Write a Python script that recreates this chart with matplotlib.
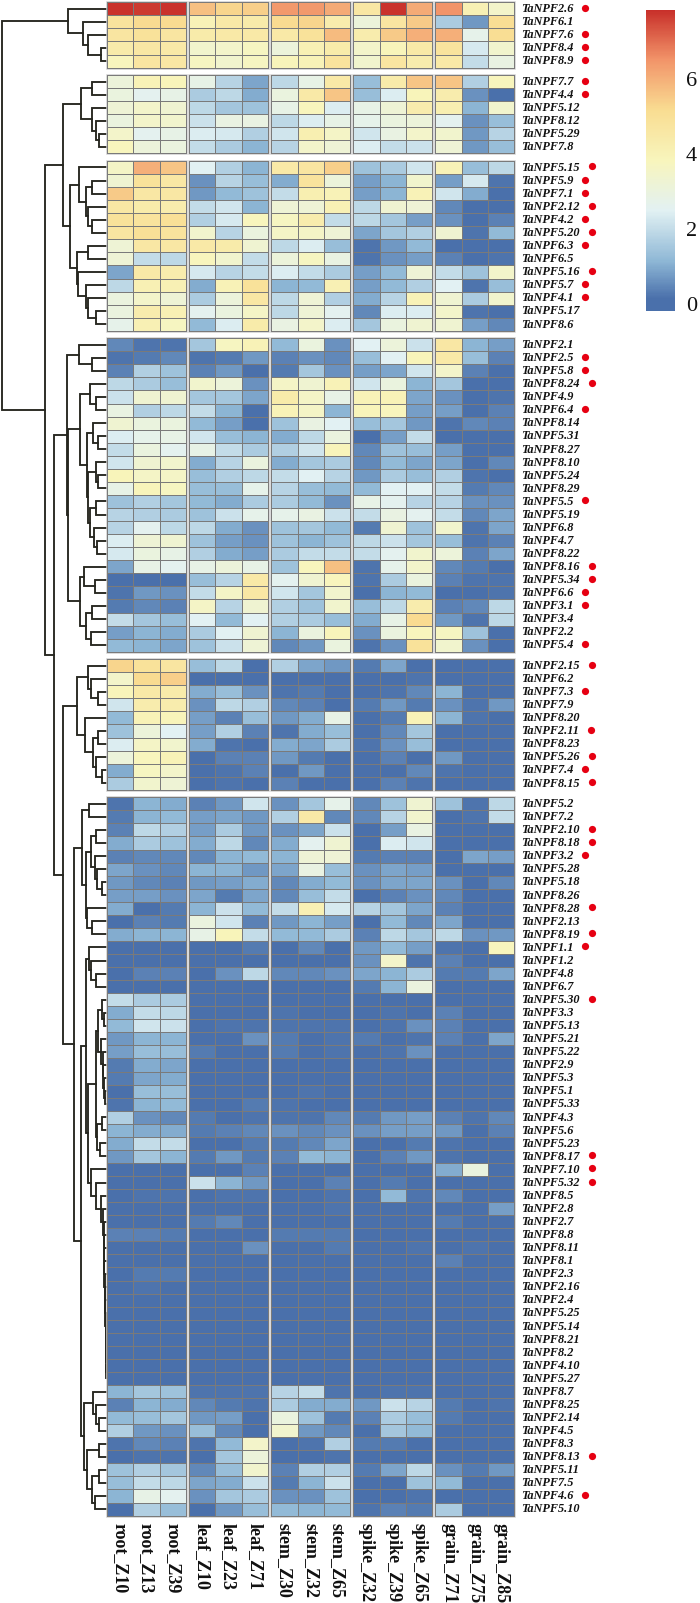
import numpy as np
import matplotlib
matplotlib.use('Agg')
import matplotlib.pyplot as plt
from matplotlib.colors import LinearSegmentedColormap, Normalize
from matplotlib.patches import Rectangle
from matplotlib.colorbar import ColorbarBase

samples = ['root_Z10', 'root_Z13', 'root_Z39', 'leaf_Z10', 'leaf_Z23', 'leaf_Z71',
           'stem_Z30', 'stem_Z32', 'stem_Z65', 'spike_Z32', 'spike_Z39', 'spike_Z65',
           'grain_Z71', 'grain_Z75', 'grain_Z85']

genes_1 = ['2.6', '6.1', '7.6', '8.4', '8.9']
values_1 = [
    [7.8, 7.7, 7.8, 5.7, 5.3, 5.4, 6.4, 6.4, 6.1, 4.6, 7.8, 6.1, 6.5, 4.1, 3.5],
    [4.8, 5.2, 5.2, 4.0, 4.5, 4.4, 5.2, 5.3, 4.3, 3.1, 4.7, 5.5, 1.6, 0.7, 5.1],
    [4.7, 4.9, 4.7, 4.4, 4.5, 4.5, 4.5, 4.9, 5.8, 4.3, 5.5, 6.0, 6.0, 2.7, 5.1],
    [4.4, 4.6, 4.5, 3.4, 3.5, 3.7, 3.1, 4.1, 4.4, 3.5, 3.9, 4.5, 4.8, 2.3, 3.4],
    [3.8, 4.7, 4.6, 3.7, 3.4, 3.7, 3.9, 4.0, 4.8, 3.4, 4.7, 4.3, 4.5, 2.0, 2.9],
]

genes_2 = ['7.7', '4.4', '5.12', '8.12', '5.29', '7.8']
values_2 = [
    [3.1, 4.0, 3.9, 2.8, 1.8, 0.9, 1.9, 2.8, 4.5, 1.3, 4.4, 5.6, 5.6, 1.7, 3.8],
    [3.0, 2.6, 2.8, 1.6, 1.9, 1.0, 3.0, 4.5, 5.6, 1.3, 2.4, 3.9, 4.3, 0.6, 0.1],
    [3.2, 3.5, 3.3, 1.9, 1.5, 1.4, 2.8, 3.8, 2.4, 2.8, 3.2, 4.3, 4.2, 1.1, 3.4],
    [3.0, 3.5, 3.4, 2.1, 2.9, 2.9, 1.9, 2.4, 2.8, 2.7, 3.0, 3.1, 2.6, 0.6, 1.3],
    [3.5, 2.6, 2.8, 2.4, 2.3, 1.7, 2.2, 4.2, 3.6, 2.2, 2.9, 3.5, 3.4, 0.7, 1.8],
    [3.8, 3.1, 3.0, 2.0, 1.6, 1.1, 1.8, 3.5, 3.2, 2.4, 2.0, 2.1, 3.2, 0.7, 1.3],
]

genes_3 = ['5.15', '5.9', '7.1', '2.12', '4.2', '5.20', '6.3', '6.5', '5.16', '5.7', '4.1', '5.17', '8.6']
values_3 = [
    [3.6, 6.0, 5.6, 2.5, 1.7, 1.1, 4.5, 4.7, 5.4, 1.4, 1.6, 2.2, 4.0, 1.3, 1.9],
    [3.3, 4.9, 4.6, 0.6, 1.8, 1.3, 1.0, 4.8, 3.1, 0.8, 1.1, 3.4, 0.8, 2.3, 0.2],
    [5.5, 4.6, 4.6, 0.7, 1.2, 1.4, 2.0, 4.2, 4.0, 0.8, 1.1, 4.0, 2.2, 1.0, 0.1],
    [4.6, 4.4, 4.3, 2.0, 2.2, 1.1, 3.2, 3.2, 4.1, 1.9, 3.3, 3.2, 0.5, 0.1, 0.1],
    [4.9, 4.8, 5.0, 1.7, 2.3, 3.8, 3.7, 4.3, 2.0, 1.9, 1.5, 0.8, 0.6, 0.1, 0.4],
    [4.7, 5.0, 4.8, 3.4, 1.8, 3.0, 3.6, 3.6, 3.2, 0.9, 1.5, 1.7, 3.3, 0.2, 1.2],
    [3.2, 4.6, 4.6, 4.5, 4.4, 3.3, 1.9, 2.4, 1.3, 0.2, 0.7, 1.2, 0.1, 0.1, 0.1],
    [3.2, 2.0, 1.9, 3.8, 3.4, 2.0, 3.1, 3.7, 2.9, 0.2, 0.6, 0.8, 0.4, 0.1, 0.2],
    [0.9, 4.5, 4.3, 2.3, 1.8, 2.0, 2.4, 2.0, 1.6, 0.8, 1.2, 3.2, 2.0, 1.4, 3.5],
    [1.9, 4.1, 4.1, 1.0, 4.0, 4.9, 1.1, 1.2, 4.1, 0.8, 1.2, 1.7, 2.5, 0.2, 1.3],
    [3.0, 3.5, 3.2, 1.6, 3.1, 4.6, 1.9, 3.2, 1.7, 1.0, 1.8, 4.0, 3.3, 1.6, 3.4],
    [3.0, 4.3, 4.1, 2.6, 3.0, 3.6, 1.9, 3.2, 2.6, 0.5, 2.4, 2.4, 3.5, 0.2, 0.1],
    [2.7, 4.1, 3.7, 1.2, 2.4, 4.4, 2.9, 3.5, 2.4, 1.5, 3.0, 3.3, 3.3, 0.8, 0.5],
]

genes_4 = ['2.1', '2.5', '5.8', '8.24', '4.9', '6.4', '8.14', '5.31', '8.27', '8.10', '5.24', '8.29',
           '5.5', '5.19', '6.8', '4.7', '8.22', '8.16', '5.34', '6.6', '3.1', '3.4', '2.2', '5.4']
values_4 = [
    [0.5, 0.2, 0.2, 1.5, 3.7, 4.0, 1.2, 3.0, 0.6, 2.5, 3.1, 2.1, 4.6, 1.1, 0.8],
    [0.2, 0.3, 0.5, 0.2, 0.3, 0.7, 0.4, 0.6, 0.5, 1.3, 2.5, 3.9, 4.5, 1.3, 0.4],
    [0.4, 1.7, 1.4, 0.4, 0.7, 0.1, 0.3, 1.5, 0.6, 0.8, 0.9, 2.2, 3.5, 0.4, 0.1],
    [1.9, 1.6, 1.3, 3.4, 3.1, 0.6, 3.6, 3.3, 4.0, 2.2, 3.0, 1.1, 1.5, 0.1, 0.1],
    [2.1, 3.3, 3.3, 1.5, 1.5, 0.9, 4.4, 3.6, 2.8, 4.0, 4.0, 0.9, 0.6, 0.1, 0.2],
    [2.9, 1.7, 1.9, 2.0, 1.1, 0.1, 4.0, 3.6, 1.1, 3.9, 3.8, 0.8, 0.8, 0.1, 0.4],
    [3.3, 3.0, 3.0, 1.2, 0.8, 0.1, 1.4, 2.9, 2.5, 1.3, 1.5, 0.7, 0.2, 0.5, 0.4],
    [2.4, 2.7, 2.8, 2.2, 1.3, 1.1, 1.0, 1.9, 3.0, 0.1, 0.8, 2.0, 0.1, 0.1, 0.1],
    [2.0, 3.0, 2.6, 2.8, 2.0, 1.6, 1.7, 2.2, 3.9, 0.5, 1.4, 1.3, 0.8, 0.1, 0.1],
    [2.2, 3.3, 3.4, 1.0, 1.8, 3.0, 1.0, 1.5, 1.6, 0.5, 1.2, 0.9, 0.9, 0.1, 0.5],
    [3.9, 3.6, 3.6, 1.3, 1.7, 1.9, 2.0, 2.5, 1.8, 0.7, 1.6, 1.3, 1.7, 0.2, 0.1],
    [2.8, 3.9, 3.7, 1.3, 1.3, 2.7, 1.8, 1.3, 1.2, 1.2, 2.5, 2.5, 2.0, 0.3, 0.5],
    [1.4, 1.7, 1.5, 1.2, 1.0, 1.6, 1.6, 1.2, 0.6, 2.8, 2.6, 1.8, 1.8, 0.6, 0.6],
    [1.8, 1.7, 1.6, 1.4, 2.1, 2.7, 2.7, 2.9, 2.1, 2.0, 2.9, 2.6, 2.0, 0.5, 0.9],
    [1.8, 2.6, 1.9, 1.9, 1.0, 0.6, 1.4, 1.5, 1.2, 0.3, 3.3, 1.4, 3.4, 0.2, 0.9],
    [2.4, 3.2, 3.3, 1.4, 0.8, 0.6, 1.4, 1.1, 1.4, 1.9, 2.1, 1.5, 1.3, 0.2, 0.4],
    [2.3, 3.0, 2.8, 1.7, 1.0, 0.8, 1.6, 2.0, 2.0, 2.0, 2.6, 3.4, 3.1, 0.4, 0.9],
    [0.9, 2.8, 2.6, 2.8, 3.1, 2.8, 1.4, 3.8, 5.7, 0.2, 2.7, 3.5, 0.5, 0.3, 0.1],
    [0.1, 0.1, 0.1, 1.3, 1.8, 4.5, 2.6, 3.3, 3.8, 0.2, 1.6, 3.0, 0.4, 0.2, 0.2],
    [0.2, 0.7, 0.6, 2.0, 3.6, 4.6, 2.2, 1.5, 3.4, 0.1, 1.1, 1.2, 0.1, 0.1, 0.2],
    [0.3, 0.5, 0.4, 3.6, 1.8, 3.3, 1.7, 1.4, 3.4, 1.3, 1.9, 4.3, 0.4, 0.5, 1.9],
    [2.0, 1.5, 1.3, 2.5, 1.2, 2.5, 1.7, 1.6, 1.3, 1.0, 2.8, 5.2, 0.7, 0.2, 1.9],
    [0.8, 1.1, 1.0, 1.6, 2.5, 3.3, 1.1, 3.0, 3.9, 0.6, 3.0, 3.8, 3.7, 1.4, 0.1],
    [1.2, 1.1, 0.9, 1.4, 2.1, 3.2, 0.5, 0.7, 3.0, 0.2, 0.6, 4.9, 3.4, 0.6, 0.1],
]

genes_5 = ['2.15', '6.2', '7.3', '7.9', '8.20', '2.11', '8.23', '5.26', '7.4', '8.15']
values_5 = [
    [5.3, 4.9, 4.7, 1.3, 1.9, 0.1, 1.7, 0.9, 0.7, 0.3, 0.9, 0.1, 0.1, 0.1, 0.1],
    [3.5, 5.2, 5.4, 0.1, 0.1, 0.1, 0.1, 0.1, 0.1, 0.1, 0.1, 0.2, 0.1, 0.1, 0.1],
    [3.9, 4.5, 4.4, 1.0, 1.3, 0.6, 0.2, 0.3, 0.1, 0.1, 0.2, 0.5, 1.1, 0.1, 0.1],
    [2.2, 4.3, 4.3, 0.6, 1.9, 1.7, 0.5, 0.4, 0.1, 0.3, 0.7, 0.3, 0.6, 0.2, 0.7],
    [1.2, 4.0, 3.9, 0.8, 0.4, 1.3, 0.7, 1.0, 2.8, 0.1, 0.3, 4.0, 1.1, 0.2, 0.1],
    [1.4, 3.1, 2.5, 0.8, 1.7, 0.4, 0.2, 1.0, 1.3, 0.1, 0.5, 1.5, 0.1, 0.1, 0.1],
    [2.4, 3.6, 3.4, 1.0, 0.2, 0.1, 1.0, 0.9, 1.6, 0.2, 0.6, 1.3, 0.1, 0.1, 0.1],
    [3.1, 3.8, 4.0, 0.1, 0.4, 0.4, 0.7, 0.3, 0.1, 0.1, 0.4, 0.1, 0.7, 0.1, 0.1],
    [1.0, 3.7, 3.5, 0.1, 0.2, 0.4, 0.1, 0.7, 0.1, 0.1, 0.0, 0.5, 0.2, 0.1, 0.1],
    [1.6, 3.4, 3.2, 0.1, 0.2, 0.1, 0.4, 0.1, 0.1, 0.1, 0.4, 0.2, 0.1, 0.1, 0.1],
]

genes_6 = ['5.2', '7.2', '2.10', '8.18', '3.2', '5.28', '5.18', '8.26', '8.28', '2.13', '8.19',
           '1.1', '1.2', '4.8', '6.7', '5.30', '3.3', '5.13', '5.21', '5.22', '2.9', '5.3', '5.1', '5.33',
           '4.3', '5.6', '5.23', '8.17', '7.10', '5.32', '8.5', '2.8', '2.7', '8.8', '8.11', '8.1', '2.3',
           '2.16', '2.4', '5.25', '5.14', '8.21', '8.2', '4.10', '5.27', '8.7', '8.25', '2.14', '4.5',
           '8.3', '8.13', '5.11', '7.5', '4.6', '5.10']
values_6 = [
    [0.2, 1.1, 1.0, 0.4, 0.7, 2.2, 0.6, 1.5, 2.7, 0.5, 1.4, 3.3, 1.4, 0.2, 1.9],
    [0.3, 1.1, 1.2, 0.8, 0.9, 0.7, 1.7, 4.5, 0.5, 0.5, 1.8, 3.4, 0.1, 0.2, 2.0],
    [0.4, 1.9, 1.7, 0.8, 1.6, 0.7, 0.6, 0.9, 2.1, 0.1, 0.8, 2.9, 0.1, 0.1, 0.1],
    [1.0, 1.6, 1.4, 1.0, 1.9, 0.5, 1.0, 2.6, 3.3, 0.1, 2.4, 2.2, 0.1, 0.1, 0.1],
    [0.4, 0.5, 0.5, 0.5, 1.1, 1.2, 1.1, 3.2, 3.2, 0.3, 0.4, 0.4, 0.1, 0.9, 0.8],
    [0.9, 0.6, 0.5, 1.1, 1.1, 0.7, 0.9, 2.9, 1.3, 0.6, 0.9, 0.8, 0.1, 0.1, 0.1],
    [0.7, 0.5, 0.4, 0.7, 0.8, 1.0, 0.5, 1.0, 1.2, 0.6, 0.9, 0.9, 0.6, 0.1, 0.5],
    [0.8, 0.8, 0.6, 0.9, 0.3, 0.9, 0.5, 1.3, 2.0, 0.1, 0.4, 0.6, 0.5, 0.1, 0.1],
    [1.0, 0.1, 0.3, 1.1, 2.1, 1.2, 2.0, 4.1, 2.3, 1.8, 1.5, 0.9, 0.4, 0.1, 0.1],
    [0.1, 0.4, 0.3, 3.0, 2.2, 0.4, 0.7, 1.1, 0.8, 0.1, 1.2, 0.5, 0.9, 0.1, 0.1],
    [1.0, 1.1, 1.1, 2.8, 3.9, 2.0, 1.2, 1.2, 1.6, 0.4, 1.9, 1.5, 1.9, 0.6, 0.7],
    [0.1, 0.1, 0.1, 0.1, 0.1, 0.3, 0.1, 0.5, 0.1, 0.7, 1.2, 0.8, 0.2, 0.1, 3.8],
    [0.1, 0.1, 0.1, 0.1, 0.1, 0.1, 0.1, 0.1, 0.1, 0.6, 3.5, 0.2, 0.4, 0.1, 0.1],
    [0.1, 0.4, 0.4, 0.1, 0.6, 1.9, 0.5, 0.5, 0.6, 0.9, 1.1, 1.6, 0.3, 0.3, 0.9],
    [0.1, 0.1, 0.1, 0.1, 0.1, 0.1, 0.1, 0.1, 0.1, 0.3, 1.1, 3.0, 0.1, 0.1, 0.1],
    [2.0, 1.6, 1.6, 0.1, 0.1, 0.1, 0.1, 0.1, 0.1, 0.1, 0.1, 0.1, 0.1, 0.1, 0.1],
    [1.0, 2.0, 1.9, 0.1, 0.1, 0.1, 0.2, 0.1, 0.1, 0.1, 0.2, 0.1, 0.4, 0.1, 0.1],
    [1.2, 2.2, 2.1, 0.1, 0.2, 0.2, 0.2, 0.2, 0.2, 0.1, 0.2, 0.6, 0.4, 0.1, 0.1],
    [0.7, 1.1, 1.1, 0.1, 0.1, 0.6, 0.3, 0.1, 0.2, 0.3, 0.1, 0.2, 0.4, 0.1, 0.9],
    [0.8, 1.3, 1.3, 0.3, 0.1, 0.1, 0.3, 0.1, 0.2, 0.1, 0.2, 0.6, 0.1, 0.1, 0.1],
    [0.3, 1.0, 0.9, 0.1, 0.1, 0.1, 0.1, 0.1, 0.1, 0.1, 0.1, 0.1, 0.1, 0.1, 0.1],
    [0.3, 0.9, 1.0, 0.1, 0.1, 0.1, 0.1, 0.1, 0.1, 0.1, 0.1, 0.1, 0.1, 0.1, 0.1],
    [0.1, 1.3, 1.3, 0.1, 0.1, 0.1, 0.1, 0.2, 0.1, 0.1, 0.1, 0.1, 0.1, 0.1, 0.1],
    [0.2, 1.1, 1.2, 0.1, 0.1, 0.3, 0.2, 0.1, 0.1, 0.1, 0.1, 0.1, 0.1, 0.1, 0.1],
    [1.7, 0.6, 0.5, 0.3, 0.1, 0.2, 0.2, 0.2, 0.5, 0.3, 0.7, 0.8, 0.4, 0.2, 0.5],
    [1.1, 1.0, 1.0, 0.3, 0.4, 0.5, 0.6, 0.5, 0.6, 0.6, 0.8, 0.8, 0.7, 0.1, 0.4],
    [1.0, 2.0, 2.0, 0.1, 0.1, 0.3, 0.3, 0.5, 0.9, 0.1, 0.1, 0.3, 0.2, 0.1, 0.1],
    [0.7, 1.5, 1.1, 0.3, 0.7, 0.3, 0.4, 1.2, 1.1, 0.1, 0.4, 0.7, 0.2, 0.1, 0.1],
    [0.1, 0.1, 0.1, 0.1, 0.1, 0.4, 0.1, 0.1, 0.1, 0.1, 0.1, 0.1, 1.0, 3.0, 0.1],
    [0.1, 0.1, 0.1, 2.1, 1.1, 0.7, 0.1, 0.1, 0.4, 0.1, 0.3, 0.1, 0.1, 0.1, 0.1],
    [0.1, 0.2, 0.2, 0.1, 0.2, 0.2, 0.1, 0.1, 0.2, 0.1, 1.2, 0.2, 0.5, 0.1, 0.1],
    [0.1, 0.1, 0.1, 0.1, 0.1, 0.1, 0.1, 0.1, 0.2, 0.1, 0.1, 0.1, 0.1, 0.1, 0.8],
    [0.1, 0.1, 0.1, 0.3, 0.5, 0.1, 0.1, 0.1, 0.1, 0.1, 0.1, 0.1, 0.3, 0.1, 0.1],
    [0.4, 0.4, 0.3, 0.1, 0.1, 0.1, 0.3, 0.3, 0.3, 0.1, 0.1, 0.1, 0.1, 0.1, 0.1],
    [0.1, 0.1, 0.1, 0.1, 0.1, 0.6, 0.1, 0.1, 0.3, 0.1, 0.1, 0.2, 0.1, 0.2, 0.1],
    [0.1, 0.1, 0.1, 0.1, 0.1, 0.1, 0.1, 0.1, 0.1, 0.1, 0.1, 0.1, 0.4, 0.1, 0.1],
    [0.1, 0.3, 0.3, 0.1, 0.1, 0.1, 0.1, 0.1, 0.1, 0.1, 0.1, 0.1, 0.1, 0.1, 0.1],
    [0.1, 0.2, 0.1, 0.1, 0.1, 0.1, 0.1, 0.1, 0.1, 0.1, 0.1, 0.1, 0.1, 0.1, 0.1],
    [0.1, 0.1, 0.1, 0.1, 0.1, 0.1, 0.1, 0.1, 0.1, 0.1, 0.1, 0.1, 0.1, 0.1, 0.1],
    [0.1, 0.1, 0.1, 0.1, 0.1, 0.1, 0.1, 0.1, 0.1, 0.1, 0.1, 0.1, 0.1, 0.1, 0.1],
    [0.1, 0.1, 0.1, 0.1, 0.1, 0.1, 0.1, 0.1, 0.1, 0.1, 0.1, 0.1, 0.1, 0.1, 0.1],
    [0.1, 0.1, 0.1, 0.1, 0.1, 0.1, 0.1, 0.1, 0.1, 0.1, 0.1, 0.1, 0.1, 0.1, 0.1],
    [0.1, 0.1, 0.1, 0.1, 0.1, 0.1, 0.1, 0.1, 0.1, 0.1, 0.1, 0.1, 0.1, 0.1, 0.1],
    [0.1, 0.1, 0.1, 0.1, 0.1, 0.1, 0.1, 0.1, 0.1, 0.1, 0.1, 0.1, 0.1, 0.1, 0.1],
    [0.1, 0.1, 0.1, 0.1, 0.1, 0.1, 0.1, 0.1, 0.1, 0.1, 0.1, 0.1, 0.1, 0.1, 0.1],
    [1.1, 1.5, 1.4, 0.2, 0.2, 0.2, 1.8, 2.0, 0.2, 0.1, 0.2, 0.2, 0.1, 0.1, 0.1],
    [0.4, 1.1, 1.0, 0.5, 0.3, 0.2, 1.6, 1.0, 1.0, 0.7, 2.1, 1.8, 0.3, 0.1, 0.2],
    [1.2, 1.3, 1.5, 0.7, 0.8, 0.1, 3.0, 1.4, 0.3, 0.4, 1.6, 1.3, 0.3, 0.1, 0.1],
    [1.7, 0.7, 0.6, 1.3, 0.5, 0.1, 3.4, 0.7, 0.5, 0.1, 1.5, 1.2, 0.1, 0.1, 0.1],
    [0.2, 0.5, 0.4, 0.2, 1.2, 3.5, 0.1, 0.2, 1.7, 0.3, 0.3, 0.1, 0.1, 0.1, 0.1],
    [0.1, 0.2, 0.2, 0.1, 1.5, 3.1, 0.1, 0.1, 0.2, 0.1, 0.1, 0.1, 0.1, 0.1, 0.1],
    [1.4, 1.7, 1.5, 0.5, 1.3, 3.4, 0.4, 1.7, 1.7, 0.3, 0.9, 1.9, 0.6, 0.3, 0.7],
    [1.3, 2.0, 1.9, 0.9, 1.0, 2.1, 0.3, 1.1, 2.1, 0.1, 0.1, 1.4, 1.2, 0.1, 0.1],
    [1.1, 2.8, 2.6, 0.6, 1.5, 1.6, 0.6, 0.6, 1.4, 0.1, 0.1, 0.2, 0.1, 0.1, 0.1],
    [0.1, 1.7, 1.3, 0.1, 0.7, 1.3, 1.2, 1.1, 1.2, 0.2, 0.4, 0.3, 1.6, 0.1, 0.1],
]

# genes with a red dot behind the name
marked = ['2.6', '7.6', '8.4', '8.9', '7.7', '4.4', '5.15', '5.9', '7.1', '2.12', '4.2', '5.20', '6.3',
          '5.16', '5.7', '4.1', '2.5', '5.8', '8.24', '6.4', '5.5', '8.16', '5.34', '6.6', '3.1', '5.4',
          '2.15', '7.3', '2.11', '5.26', '7.4', '8.15', '2.10', '8.18', '3.2', '8.28', '8.19', '1.1',
          '5.30', '8.17', '7.10', '5.32', '8.13', '4.6']

# dendrogram: (merge height, left, right), a string is a leaf
tree_1 = (39, '2.6', (24, '6.1', (19.5, '7.6', (6, '8.4', '8.9'))))
tree_2 = (26, (15, '7.7', '4.4'), (15, '5.12', (11, '8.12', (8, '5.29', '7.8'))))
tree_3 = (37,
          (28, '5.15', (21, (15.5, '5.9', '7.1'), (19.5, '2.12', (15.5, '4.2', '5.20')))),
          (30, (19, '6.3', '6.5'), (29, '5.16', (21, '5.7', (19, '4.1', (11, '5.17', '8.6'))))))
tree_4 = (40,
          (28, '2.1', (15, '2.5', '5.8')),
          (39,
           (27, (17, '8.24', (11, '4.9', '6.4')),
            (20, (14, '8.14', (9.4, '5.31', '8.27')),
             (19, (11, '8.10', (9, '5.24', '8.29')),
              (17, (11, '5.5', '5.19'), (13, '6.8', (10.5, '4.7', '8.22')))))),
           (27.5, (23, '8.16', (12, '5.34', '6.6')), (21, (15, '3.1', '3.4'), (16, '2.2', '5.4')))))
tree_5 = (30,
          (19, '2.15', (16, '6.2', (9.4, '7.3', '7.9'))),
          (22, '8.20', (14, (9.4, '2.11', '8.23'), (11, '5.26', (5, '7.4', '8.15')))))
tail_6 = (3.4, '2.7', (3.2, '8.8', (3.0, '8.11', (2.7, '8.1', (2.4, '2.3', (2.1, '2.16', (1.8, '2.4', (1.5, '5.25',
          (1.2, '5.14', (1.0, '8.21', (0.8, '8.2', (0.6, '4.10', '5.27'))))))))))))
tree_6 = (33,
          (25, (18, '5.2', '7.2'),
           (21, (16, (11, '2.10', '8.18'), (12, '3.2', (10, '5.28', (5, '5.18', '8.26')))),
            (20.5, '8.28', (15, '2.13', '8.19')))),
          (26,
           (21, (18, '1.1', (16, '1.2', (11, '4.8', '6.7'))),
            (19,
             (11, (8.7, (5.3, '5.30', (3, '3.3', '5.13')),
                   (6, '5.21', (4.3, '5.22', (3.7, '2.9', (3, '5.3', (2.3, '5.1', '5.33')))))),
              (10, (5.3, '4.3', '5.6'), (7, '5.23', '8.17'))),
             (16.3, '7.10', (11, '5.32', (6.3, '8.5', (4.3, '2.8', tail_6)))))),
           (23, (14.3, '8.7', (11, '8.25', (7.7, '2.14', '4.5'))),
            (19.7, (7.7, '8.3', '8.13'), (14.7, (7.7, '5.11', '7.5'), (12, '4.6', '5.10'))))))
tree_all = (105, tree_1,
            (62.4,
             (44.5, tree_2, tree_3),
             (53, tree_4, (44, tree_5, tree_6))))

blocks = [(genes_1, values_1), (genes_2, values_2), (genes_3, values_3),
          (genes_4, values_4), (genes_5, values_5), (genes_6, values_6)]

# colours picked from the colour bar, the lowest one holds a little so near-zero cells stay deep blue
stops = [0, 0.04, 1 / 6, 2 / 6, 3 / 6, 4 / 6, 5 / 6, 1]
colors = ['#4A70AB', '#4A70AB', '#8FB8D6', '#E2F1F3', '#F8F5BC', '#F9DD92', '#F2956A', '#C8302A']
cmap = LinearSegmentedColormap.from_list('heat', list(zip(stops, colors)), N=256)
norm = Normalize(vmin=-0.19, vmax=7.84)

W, H = 700, 1603
fig = plt.figure(figsize=(W / 100, H / 100), dpi=100)
ax = fig.add_axes([0, 0, 1, 1])
ax.set_xlim(0, W)
ax.set_ylim(H, 0)
ax.axis('off')

left = 107.0
col_w = 26.3
group_gap = 3.2
row_h = 13.06
block_gap = 7.5
grid_color = '#7a7a7a'
serif = 'Liberation Serif'

row_y = {}
top = 2.3
for genes, values in blocks:
    values = np.array(values)
    bottom = top + row_h * len(genes)
    ys = np.linspace(top, bottom, len(genes) + 1)
    for g in range(5):
        x0 = left + g * (3 * col_w + group_gap)
        xs = np.linspace(x0, x0 + 3 * col_w, 4)
        ax.add_patch(Rectangle((x0, top), 3 * col_w, bottom - top, fill=False, ec='#cfcfcf', lw=1.8, zorder=1))
        ax.pcolormesh(xs, ys, values[:, g * 3:g * 3 + 3], cmap=cmap, norm=norm,
                      edgecolors=grid_color, linewidth=0.7, zorder=2)
    for i, gene in enumerate(genes):
        y = top + (i + 0.5) * row_h
        row_y[gene] = y
        t = ax.text(521, y + 0.3, 'TaNPF' + gene, family=serif, style='italic', weight='bold',
                    fontsize=8.8, color='#111111', ha='left', va='center')
        if gene in marked:
            end = t.get_window_extent(fig.canvas.get_renderer()).x1
            ax.plot(end + 12, y - 1, 'o', color='#E60012', ms=5.2, mew=0)
    top = bottom + block_gap
end_y = top - block_gap


# recursive walk over the tree, returns the y and x of a node
def draw_node(node):
    if isinstance(node, str):
        return row_y[node], left
    height, a, b = node
    x = left - height
    ya, xa = draw_node(a)
    yb, xb = draw_node(b)
    ax.plot([xa, x, x, xb], [ya, ya, yb, yb], color='#26261f', lw=1.35, solid_joinstyle='miter', zorder=0)
    return (ya + yb) / 2, x


draw_node(tree_all)

for c, name in enumerate(samples):
    g = c // 3
    x = left + g * (3 * col_w + group_gap) + (c % 3 + 0.5) * col_w
    ax.text(x, end_y + 7, name, family=serif, weight='bold', fontsize=13, color='#111111',
            rotation=270, ha='center', va='top')

# colour bar
cax = fig.add_axes([646 / W, 1 - 311 / H, 29 / W, 301 / H])
cb = ColorbarBase(cax, cmap=cmap, norm=norm, ticks=[0, 2, 4, 6])
cb.outline.set_visible(False)
cax.tick_params(length=0, pad=8, labelsize=16)
for label in cax.get_yticklabels():
    label.set_family(serif)
    label.set_color('#111111')

plt.savefig('out.png', dpi=100)
plt.close()
